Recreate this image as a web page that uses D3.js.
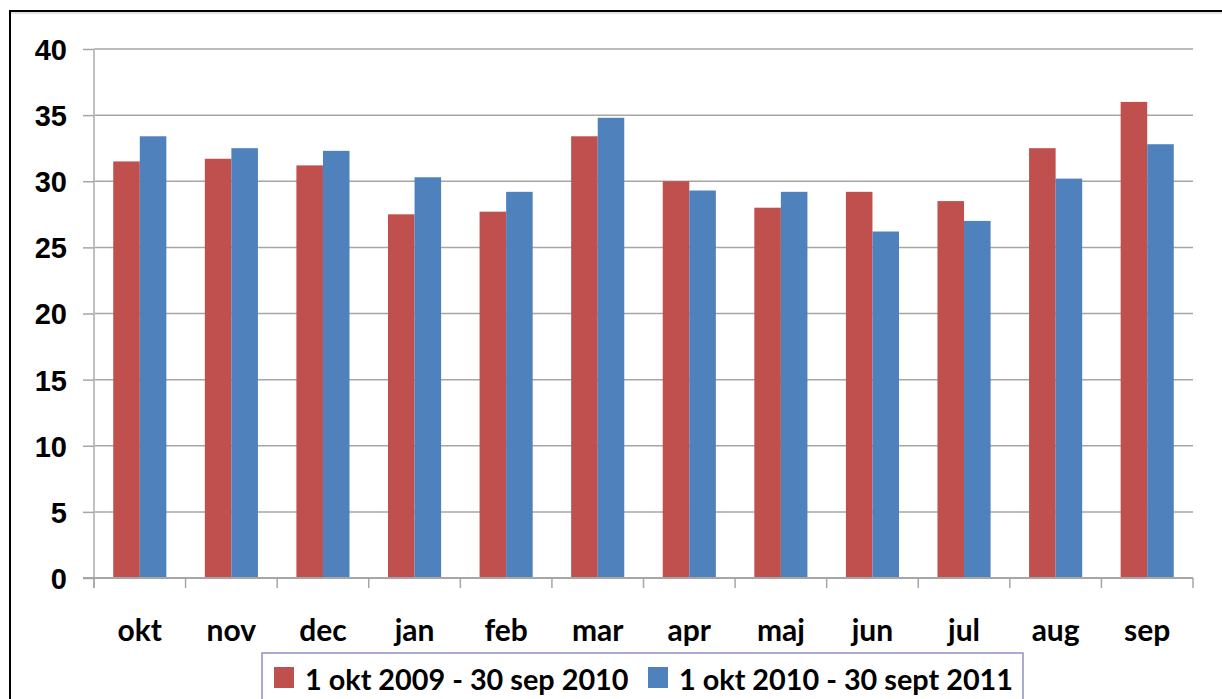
<!DOCTYPE html>
<html>
<head>
<meta charset="utf-8">
<script src="https://cdn.jsdelivr.net/npm/d3@7"></script>
<style>
	body { margin: 0; background: #fff; }
	svg { display: block; font-family: Lato, "Open Sans", sans-serif; font-weight: bold; }
	.axis text { fill: #000; }
</style>
</head>
<body>
<div id="chart"></div>
<script>
// months on the x axis
var months = ["okt", "nov", "dec", "jan", "feb", "mar", "apr", "maj", "jun", "jul", "aug", "sep"];

// series names and values
var seriesNames = ["1 okt 2009 - 30 sep 2010", "1 okt 2010 - 30 sept 2011"];
var season1 = [31.5, 31.7, 31.2, 27.5, 27.7, 33.4, 30.0, 28.0, 29.2, 28.5, 32.5, 36.0];
var season2 = [33.4, 32.5, 32.3, 30.3, 29.2, 34.8, 29.3, 29.2, 26.2, 27.0, 30.2, 32.8];
var colors = ["#C0504D", "#4F81BD"];

var yTicks = [0, 5, 10, 15, 20, 25, 30, 35, 40];

var W = 1222, H = 699;
var plot = { left: 94, right: 1193, top: 49, bottom: 578 };

var svg = d3.select("#chart").append("svg")
	.attr("width", W)
	.attr("height", H);

// outer chart frame (runs off the right and bottom edge like the picture)
svg.append("rect")
	.attr("x", 10).attr("y", 11)
	.attr("width", W + 20).attr("height", H + 20)
	.attr("fill", "#fff")
	.attr("stroke", "#000")
	.attr("stroke-width", 2);

svg.append("line")
	.attr("x1", 11).attr("x2", W)
	.attr("y1", 13).attr("y2", 13)
	.attr("stroke", "#c8c8c8").attr("stroke-width", 1);

var x0 = d3.scaleBand()
	.domain(months)
	.range([plot.left, plot.right])
	.paddingInner(0.42)
	.paddingOuter(0.21);

var x1 = d3.scaleBand()
	.domain([0, 1])
	.range([0, x0.bandwidth()]);

var y = d3.scaleLinear()
	.domain([0, 40])
	.range([plot.bottom, plot.top]);

// gridlines
svg.append("g")
	.selectAll("line")
	.data(yTicks.slice(1))
	.enter().append("line")
	.attr("x1", plot.left).attr("x2", plot.right)
	.attr("y1", function(d) { return y(d); })
	.attr("y2", function(d) { return y(d); })
	.attr("stroke", "#a6a6a6")
	.attr("stroke-width", 1.5);

// y axis
var yAxis = svg.append("g")
	.attr("class", "axis")
	.attr("transform", "translate(" + plot.left + ",0)")
	.call(d3.axisLeft(y).tickValues(yTicks).tickSize(11).tickPadding(16));

yAxis.selectAll("text").style("font-size", "29px").attr("dy", "0.36em");
yAxis.selectAll(".tick line").attr("stroke", "#a6a6a6").attr("stroke-width", 1.5);
yAxis.select(".domain").attr("stroke", "#c0c0c0").attr("stroke-width", 2).attr("d", "M0," + plot.top + "V" + (plot.bottom + 10));

// bars
var data = months.map(function(m, i) { return { month: m, values: [season1[i], season2[i]] }; });

var groups = svg.append("g")
	.selectAll("g")
	.data(data)
	.enter().append("g")
	.attr("transform", function(d) { return "translate(" + x0(d.month) + ",0)"; });

groups.selectAll("rect")
	.data(function(d) { return d.values; })
	.enter().append("rect")
	.attr("x", function(d, i) { return x1(i); })
	.attr("width", x1.bandwidth())
	.attr("y", function(d) { return y(d); })
	.attr("height", function(d) { return y(0) - y(d); })
	.attr("fill", function(d, i) { return colors[i]; });

// x axis line and category boundary ticks
var xg = svg.append("g").attr("class", "axis");

xg.append("line")
	.attr("x1", plot.left - 11).attr("x2", plot.right)
	.attr("y1", plot.bottom).attr("y2", plot.bottom)
	.attr("stroke", "#a6a6a6").attr("stroke-width", 2);

var bounds = months.map(function(m) { return x0(m) - x0.step() * 0.21; });
bounds.push(plot.right);

xg.selectAll(".xt")
	.data(bounds)
	.enter().append("line")
	.attr("class", "xt")
	.attr("x1", function(d) { return d; })
	.attr("x2", function(d) { return d; })
	.attr("y1", plot.bottom).attr("y2", plot.bottom + 10)
	.attr("stroke", "#a6a6a6").attr("stroke-width", 1.5);

xg.selectAll(".xl")
	.data(months)
	.enter().append("text")
	.attr("class", "xl")
	.attr("x", function(d) { return x0(d) + x0.bandwidth() / 2; })
	.attr("y", 641)
	.attr("text-anchor", "middle")
	.style("font-size", "30px")
	.text(function(d) { return d; });

// legend
var legend = svg.append("g");

legend.append("rect")
	.attr("x", 262).attr("y", 653)
	.attr("width", 761).attr("height", 60)
	.attr("fill", "#fff")
	.attr("stroke", "#8e8ec4")
	.attr("stroke-width", 1.5);

var legendX = [274, 648];

var items = legend.selectAll(".item")
	.data(seriesNames)
	.enter().append("g")
	.attr("class", "item")
	.attr("transform", function(d, i) { return "translate(" + legendX[i] + ",0)"; });

items.append("rect")
	.attr("x", 0).attr("y", 667)
	.attr("width", 20).attr("height", 21)
	.attr("fill", function(d, i) { return colors[i]; });

items.append("text")
	.attr("x", 31)
	.attr("y", 690)
	.style("font-size", "28.8px")
	.text(function(d) { return d; });
</script>
</body>
</html>
